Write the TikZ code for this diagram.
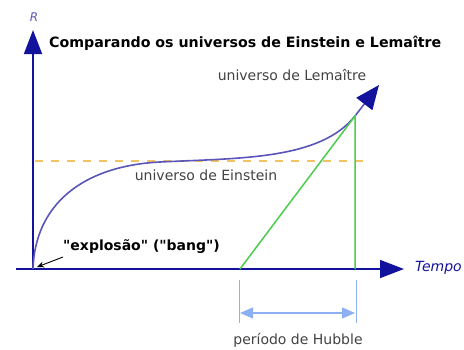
\documentclass[tikz,border=0pt]{standalone}
\usepackage{fontspec}
\setmainfont{DejaVu Sans}[Ligatures=TeXOff]
\usepackage{tikz}
\usetikzlibrary{arrows.meta,positioning}
\definecolor{axisblue}{HTML}{12129C}
\definecolor{curveblue}{HTML}{5A55B8}
\definecolor{einstein}{HTML}{F2C266}
\definecolor{hubgreen}{HTML}{4CCB4C}
\definecolor{hubblue}{HTML}{8DB0F2}
\definecolor{labelgray}{HTML}{424242}

\begin{document}
\begin{tikzpicture}[x=1pt,y=-1pt,font=\fontsize{14}{16}\selectfont,
  axis/.style={axisblue,line width=1.6pt,-{Triangle[length=24pt,width=18pt]}},
  label/.style={labelgray,inner sep=0pt}]
  \useasboundingbox (0,0) rectangle (464,349);
  % axes
  \coordinate (O) at (33,269);
  \coordinate (xstart) at (16,269);
  \draw[axis] (O) -- (33,30) coordinate (ytop);
  \node[curveblue,font=\itshape\fontsize{12}{14}\selectfont,inner sep=0pt] (R) at (34,17) {R};
  \draw[axis] (xstart) -- (404,269) coordinate (xend);
  \node[axisblue,font=\itshape\fontsize{14}{16}\selectfont,anchor=west,inner sep=0pt] (tempo) at (415,268) {Tempo};
  \node[font=\bfseries\fontsize{14.2}{16}\selectfont,anchor=west,inner sep=0pt] (title) at (49,43) {Comparando os universos de Einstein e Lemaître};
  % Einstein: static
  \draw[einstein,line width=1.4pt,dash pattern=on 8pt off 8pt] (35,161) -- (368,161);
  \node[label] (einst) at (206,175) {universo de Einstein};
  % Lemaitre
  \coordinate (peak) at (355,116);
  \draw[curveblue,line width=1.6pt] (O) .. controls (35,205) and (82,166) .. (160,162)
    .. controls (240,158) and (320,160) .. (peak);
  \draw[curveblue,line width=1.6pt,-{Triangle[length=24pt,width=20pt,color=axisblue]}] (peak) -- (379,85) coordinate (tip);
  \node[label] (lem) at (292,75) {universo de Lemaître};
  % Hubble
  \coordinate (h0) at (240,269);
  \coordinate (h1) at (355,269);
  \draw[hubgreen,line width=1.5pt] (h0) -- (peak) -- (h1);
  \node[font=\bfseries\fontsize{14}{16}\selectfont,anchor=west,inner sep=0pt] (bang) at (63,247) {"explosão" ("bang")};
  \draw[-{Stealth[length=7pt,width=6pt]},line width=0.9pt] (63,257) -- (37,267);
  \draw[hubblue,line width=0.9pt] (239,280) -- (239,323) coordinate (hl);
  \draw[hubblue,line width=0.9pt] (356,280) -- (356,323) coordinate (hr);
  \draw[hubblue,line width=1.4pt,{Triangle[length=13pt,width=11pt]}-{Triangle[length=13pt,width=11pt]}] (240,313) -- (355,313);
  \node[label] (hub) at (298,340) {período de Hubble};
\end{tikzpicture}
\end{document}
